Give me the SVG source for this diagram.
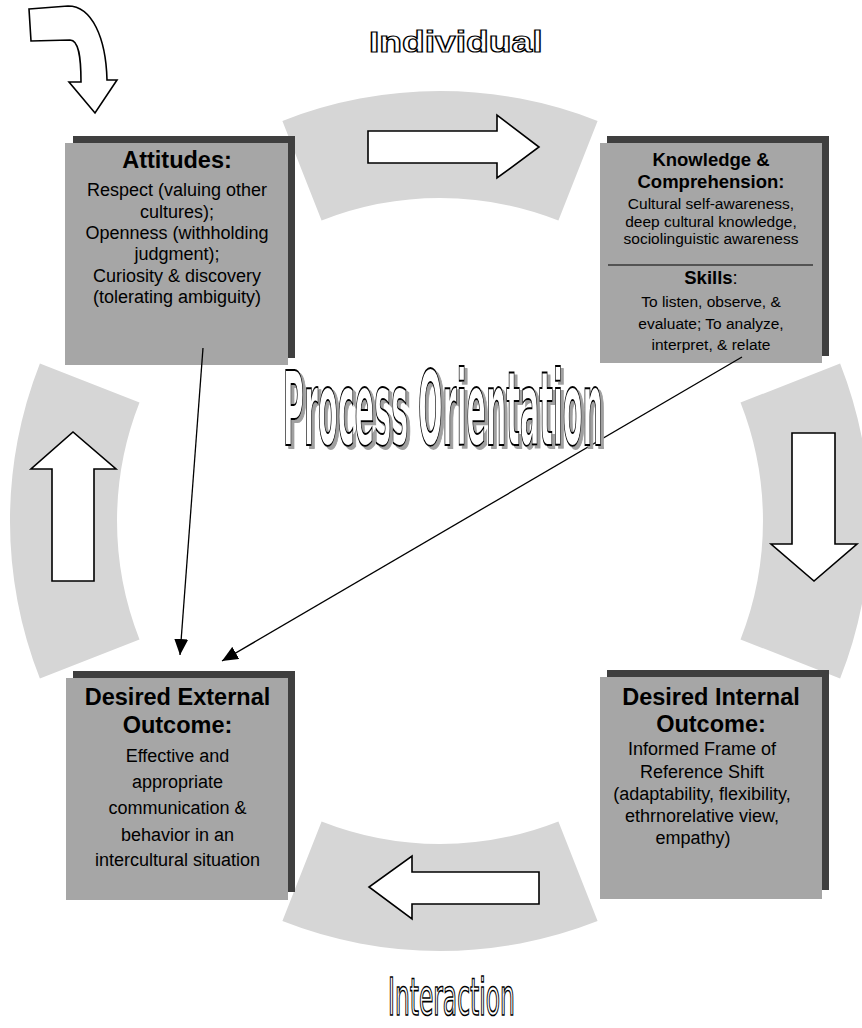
<svg xmlns="http://www.w3.org/2000/svg" width="862" height="1028" viewBox="0 0 862 1028">
<defs>
<style>
.seg{fill:#d6d6d6;stroke:none}
.arr{fill:#ffffff;stroke:#000;stroke-width:1.6;stroke-linejoin:miter}
.shadow{fill:#3f3f3f}
.box{fill:#a6a6a6}
.t{font-family:"Liberation Sans",Arial,Helvetica,sans-serif;fill:#000;text-anchor:middle}
.tt{font-weight:bold;font-size:23.5px}
.tb{font-size:18px}
.kt{font-weight:bold;font-size:18.5px}
.kb{font-size:15.5px}
.wa{font-family:"DejaVu Sans Condensed","Liberation Sans Narrow","Liberation Sans",sans-serif;font-weight:bold;fill:#fff;stroke:#000;stroke-width:1.5}
.conn{stroke:#000;stroke-width:1.3;fill:none}
</style>
<marker id="ah" markerUnits="userSpaceOnUse" markerWidth="16" markerHeight="14" viewBox="0 0 16 14" refX="16" refY="7" orient="auto">
<path d="M0,0 L16,7 L0,14 Z" fill="#000"/>
</marker>
<filter id="ds" x="-5%" y="-10%" width="115%" height="130%">
<feOffset in="SourceAlpha" dx="10" dy="3" result="o"/>
<feFlood flood-color="#a0a0a0"/>
<feComposite in2="o" operator="in" result="s"/>
<feMerge><feMergeNode in="s"/><feMergeNode in="SourceGraphic"/></feMerge>
</filter>
</defs>
<rect width="862" height="1028" fill="#fff"/>

<g id="ring">
<path class="seg" d="M282.4,120.9 A430,430 0 0 1 597.6,120.9 L558.4,220.5 A323,323 0 0 0 321.6,220.5 Z"/>
<path class="seg" d="M840.1,363.4 A430,430 0 0 1 840.1,678.6 L740.5,639.4 A323,323 0 0 0 740.5,402.6 Z"/>
<path class="seg" d="M597.6,921.1 A430,430 0 0 1 282.4,921.1 L321.6,821.5 A323,323 0 0 0 558.4,821.5 Z"/>
<path class="seg" d="M39.9,678.6 A430,430 0 0 1 39.9,363.4 L139.5,402.6 A323,323 0 0 0 139.5,639.4 Z"/>
</g>

<g id="cycle-arrows">
<polygon class="arr" points="368,131 497,131 497,115 539,147 497,178 497,163 368,163"/>
<polygon class="arr" points="792,433 835,433 835,544 857,544 814,581 771,544 792,544"/>
<polygon class="arr" points="539,872 412,872 412,856 369,887 412,919 412,904 539,904"/>
<polygon class="arr" points="52,581 52,469 31,469 73,432 116,469 94,469 94,581"/>
<path class="arr" d="M29,9 L68,6 C92,6 106,38 107,80 L117,80 L95,113 L69,82 L81,82 C81,58 79,40 70,40 L31,41 Z"/>
</g>

<g id="attitudes">
<rect class="shadow" x="73" y="136" width="222" height="222"/>
<rect class="box" x="65" y="143" width="223" height="222"/>
<text class="t tt" x="177" y="168">Attitudes:</text>
<text class="t tb" x="177" y="196">Respect (valuing other</text>
<text class="t tb" x="177" y="217.5">cultures);</text>
<text class="t tb" x="177" y="239">Openness (withholding</text>
<text class="t tb" x="177" y="260">judgment);</text>
<text class="t tb" x="177" y="281.5">Curiosity &amp; discovery</text>
<text class="t tb" x="177" y="303">(tolerating ambiguity)</text>
</g>

<g id="knowledge">
<rect class="shadow" x="607" y="136" width="222" height="220"/>
<rect class="box" x="600" y="143" width="222" height="220"/>
<text class="t kt" x="711" y="166">Knowledge &amp;</text>
<text class="t kt" x="711" y="187.5">Comprehension:</text>
<text class="t kb" x="711" y="208.5">Cultural self-awareness,</text>
<text class="t kb" x="711" y="226.5">deep cultural knowledge,</text>
<text class="t kb" x="711" y="243.5">sociolinguistic awareness</text>
<line x1="608" y1="265" x2="813" y2="265" stroke="#000" stroke-width="1.2"/>
<text class="t kt" x="711" y="284"><tspan font-weight="bold">Skills</tspan><tspan font-weight="normal">:</tspan></text>
<text class="t kb" x="711" y="306.5">To listen, observe, &amp;</text>
<text class="t kb" x="711" y="329">evaluate; To analyze,</text>
<text class="t kb" x="711" y="350">interpret, &amp; relate</text>
</g>

<g id="external">
<rect class="shadow" x="73" y="671" width="222" height="221"/>
<rect class="box" x="66" y="678" width="222" height="222"/>
<text class="t tt" x="177.5" y="705">Desired External</text>
<text class="t tt" x="177.5" y="733">Outcome:</text>
<text class="t tb" x="177.5" y="762">Effective and</text>
<text class="t tb" x="177.5" y="788">appropriate</text>
<text class="t tb" x="177.5" y="814">communication &amp;</text>
<text class="t tb" x="177.5" y="841">behavior in an</text>
<text class="t tb" x="177.5" y="866">intercultural situation</text>
</g>

<g id="internal">
<rect class="shadow" x="607" y="670" width="222" height="220"/>
<rect class="box" x="600" y="677" width="222" height="222"/>
<text class="t tt" x="711" y="705">Desired Internal</text>
<text class="t tt" x="711" y="732">Outcome:</text>
<text class="t tb" x="702" y="755">Informed Frame of</text>
<text class="t tb" x="702" y="778">Reference Shift</text>
<text class="t tb" x="702" y="800">(adaptability, flexibility,</text>
<text class="t tb" x="702" y="822">ethrnorelative view,</text>
<text class="t tb" x="693" y="844">empathy)</text>
</g>

<g id="connectors">
<line class="conn" x1="203" y1="348" x2="180" y2="655" marker-end="url(#ah)"/>
<line class="conn" x1="742" y1="357" x2="222" y2="661" marker-end="url(#ah)"/>
</g>

<g id="labels">
<text transform="translate(369,52) scale(1.24,1)" x="0" y="0" font-family="Liberation Sans,Arial,sans-serif" font-weight="bold" font-size="30" fill="#fff" stroke="#000" stroke-width="1.4" vector-effect="non-scaling-stroke">Individual</text>
<text class="wa" transform="translate(283,445) scale(0.309,1)" x="0" y="0" font-size="103" vector-effect="non-scaling-stroke" filter="url(#ds)">Process Orientation</text>
<text transform="translate(388,1015) scale(0.5,1)" x="0" y="0" font-size="52" font-family="DejaVu Sans Condensed,Liberation Sans,sans-serif" fill="#fff" stroke="#000" stroke-width="1.3" vector-effect="non-scaling-stroke">Interaction</text>
</g>
</svg>
